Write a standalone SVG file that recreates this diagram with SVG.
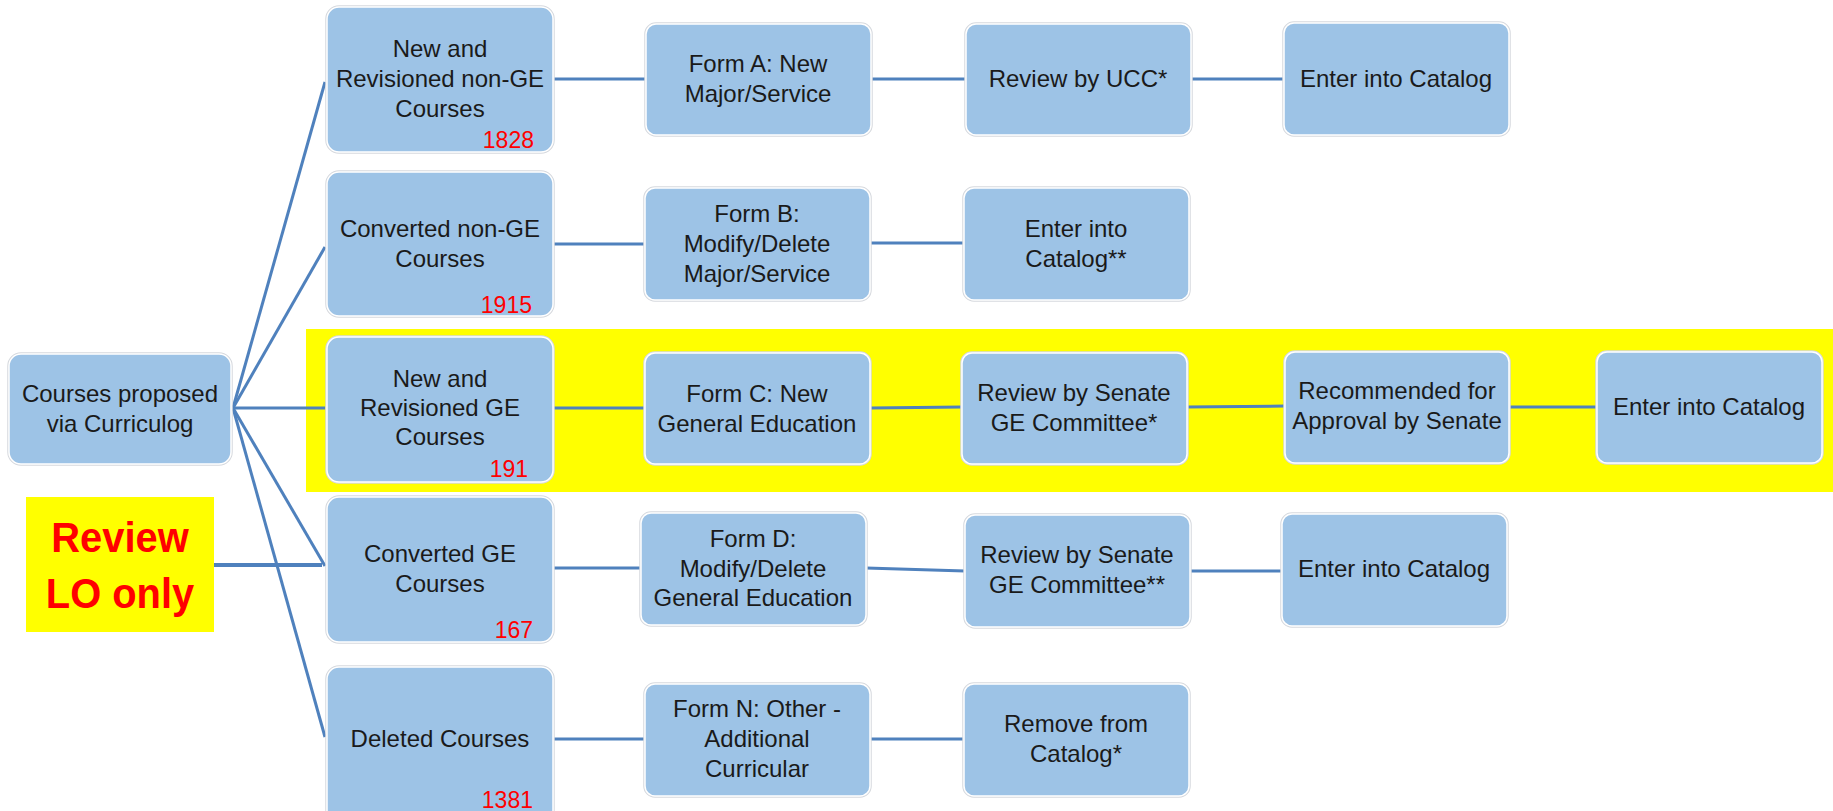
<svg xmlns="http://www.w3.org/2000/svg" width="1833" height="811" viewBox="0 0 1833 811">
  <style>
    .box { fill: #9dc3e6; stroke: #ffffff; stroke-width: 1.5; }
    .halo { fill: none; stroke: #d6d9de; stroke-width: 3.5; }
    .lbl { font-family: "Liberation Sans", Arial, sans-serif; font-size: 24px; fill: #1a1a1a; text-anchor: middle; }
    .num { font-family: "Liberation Sans", Arial, sans-serif; font-size: 23px; fill: #ff0000; text-anchor: end; }
    .note { font-family: "Liberation Sans", Arial, sans-serif; font-size: 42px; font-weight: bold; fill: #ff0000; text-anchor: middle; }
    .link { fill: none; stroke: #4f81bd; stroke-width: 3; }
  </style>
  <rect width="1833" height="811" fill="#ffffff"/>

  <!-- highlighted GE row -->
  <rect id="ge-highlight" x="306" y="329" width="1527" height="163" fill="#ffff00"/>

  <!-- connectors -->
  <g id="connectors">
    <path class="link" d="M233,408 L325,82"/>
    <path class="link" d="M233,408 L325,247"/>
    <path class="link" d="M233,408 L325,408"/>
    <path class="link" d="M233,408 L325,566"/>
    <path class="link" d="M233,408 L325,737"/>
    <path class="link" style="stroke-width:4" d="M214,565 L322,565"/>
    <path class="link" d="M553,79 L646,79"/>
    <path class="link" d="M871,79 L966,79"/>
    <path class="link" d="M1191,79 L1284,79"/>
    <path class="link" d="M553,244 L646,244"/>
    <path class="link" d="M871,243 L964,243"/>
    <path class="link" d="M553,408 L646,408"/>
    <path class="link" d="M871,408 L962,407"/>
    <path class="link" d="M1187,407 L1285,406"/>
    <path class="link" d="M1509,407 L1597,407"/>
    <path class="link" d="M553,568 L641,568"/>
    <path class="link" d="M866,568 L965,571"/>
    <path class="link" d="M1190,571 L1282,571"/>
    <path class="link" d="M553,739 L646,739"/>
    <path class="link" d="M871,739 L964,739"/>
  </g>

  <!-- note box -->
  <g id="review-lo-only">
    <rect x="26" y="497" width="188" height="135" fill="#ffff00"/>
    <text class="note" transform="translate(120,552) scale(0.95,1)">Review</text>
    <text class="note" transform="translate(120,608) scale(0.95,1)">LO only</text>
  </g>

  <!-- root -->
  <g id="courses-proposed">
    <rect class="halo" x="9" y="354" width="222" height="110" rx="12"/>
    <rect class="box" x="9" y="354" width="222" height="110" rx="12"/>
    <text class="lbl" x="120" y="402">Courses proposed</text>
    <text class="lbl" x="120" y="432">via Curriculog</text>
  </g>

  <!-- course categories -->
  <g id="new-nonge">
    <rect class="halo" x="327" y="7" width="226" height="145" rx="12"/>
    <rect class="box" x="327" y="7" width="226" height="145" rx="12"/>
    <text class="lbl" x="440" y="57">New and</text>
    <text class="lbl" x="440" y="87">Revisioned non-GE</text>
    <text class="lbl" x="440" y="117">Courses</text>
    <text class="num" x="534" y="148">1828</text>
  </g>
  <g id="converted-nonge">
    <rect class="halo" x="327" y="172" width="226" height="144" rx="12"/>
    <rect class="box" x="327" y="172" width="226" height="144" rx="12"/>
    <text class="lbl" x="440" y="237">Converted non-GE</text>
    <text class="lbl" x="440" y="267">Courses</text>
    <text class="num" x="532" y="313">1915</text>
  </g>
  <g id="new-ge">
    <rect class="halo" x="327" y="337" width="226" height="145" rx="12"/>
    <rect class="box" x="327" y="337" width="226" height="145" rx="12"/>
    <text class="lbl" x="440" y="387">New and</text>
    <text class="lbl" x="440" y="416">Revisioned GE</text>
    <text class="lbl" x="440" y="445">Courses</text>
    <text class="num" x="528" y="477">191</text>
  </g>
  <g id="converted-ge">
    <rect class="halo" x="327" y="497" width="226" height="145" rx="12"/>
    <rect class="box" x="327" y="497" width="226" height="145" rx="12"/>
    <text class="lbl" x="440" y="562">Converted GE</text>
    <text class="lbl" x="440" y="592">Courses</text>
    <text class="num" x="533" y="638">167</text>
  </g>
  <g id="deleted">
    <rect class="halo" x="327" y="667" width="226" height="155" rx="12"/>
    <rect class="box" x="327" y="667" width="226" height="155" rx="12"/>
    <text class="lbl" x="440" y="747">Deleted Courses</text>
    <text class="num" x="533" y="808">1381</text>
  </g>

  <!-- forms -->
  <g id="form-a">
    <rect class="halo" x="646" y="24" width="225" height="111" rx="10"/>
    <rect class="box" x="646" y="24" width="225" height="111" rx="10"/>
    <text class="lbl" x="758" y="72">Form A: New</text>
    <text class="lbl" x="758" y="102">Major/Service</text>
  </g>
  <g id="form-b">
    <rect class="halo" x="645" y="188" width="225" height="112" rx="10"/>
    <rect class="box" x="645" y="188" width="225" height="112" rx="10"/>
    <text class="lbl" x="757" y="222">Form B:</text>
    <text class="lbl" x="757" y="252">Modify/Delete</text>
    <text class="lbl" x="757" y="282">Major/Service</text>
  </g>
  <g id="form-c">
    <rect class="halo" x="645" y="353" width="225" height="111" rx="10"/>
    <rect class="box" x="645" y="353" width="225" height="111" rx="10"/>
    <text class="lbl" x="757" y="402">Form C: New</text>
    <text class="lbl" x="757" y="432">General Education</text>
  </g>
  <g id="form-d">
    <rect class="halo" x="641" y="513" width="225" height="112" rx="10"/>
    <rect class="box" x="641" y="513" width="225" height="112" rx="10"/>
    <text class="lbl" x="753" y="547">Form D:</text>
    <text class="lbl" x="753" y="577">Modify/Delete</text>
    <text class="lbl" x="753" y="606">General Education</text>
  </g>
  <g id="form-n">
    <rect class="halo" x="645" y="684" width="225" height="112" rx="10"/>
    <rect class="box" x="645" y="684" width="225" height="112" rx="10"/>
    <text class="lbl" x="757" y="717">Form N: Other -</text>
    <text class="lbl" x="757" y="747">Additional</text>
    <text class="lbl" x="757" y="777">Curricular</text>
  </g>

  <!-- review steps -->
  <g id="review-ucc">
    <rect class="halo" x="966" y="24" width="225" height="111" rx="10"/>
    <rect class="box" x="966" y="24" width="225" height="111" rx="10"/>
    <text class="lbl" x="1078" y="87">Review by UCC*</text>
  </g>
  <g id="enter-catalog-b">
    <rect class="halo" x="964" y="188" width="225" height="112" rx="10"/>
    <rect class="box" x="964" y="188" width="225" height="112" rx="10"/>
    <text class="lbl" x="1076" y="237">Enter into</text>
    <text class="lbl" x="1076" y="267">Catalog**</text>
  </g>
  <g id="review-senate-c">
    <rect class="halo" x="962" y="353" width="225" height="111" rx="10"/>
    <rect class="box" x="962" y="353" width="225" height="111" rx="10"/>
    <text class="lbl" x="1074" y="401">Review by Senate</text>
    <text class="lbl" x="1074" y="431">GE Committee*</text>
  </g>
  <g id="review-senate-d">
    <rect class="halo" x="965" y="515" width="225" height="112" rx="10"/>
    <rect class="box" x="965" y="515" width="225" height="112" rx="10"/>
    <text class="lbl" x="1077" y="563">Review by Senate</text>
    <text class="lbl" x="1077" y="593">GE Committee**</text>
  </g>
  <g id="remove-catalog">
    <rect class="halo" x="964" y="684" width="225" height="112" rx="10"/>
    <rect class="box" x="964" y="684" width="225" height="112" rx="10"/>
    <text class="lbl" x="1076" y="732">Remove from</text>
    <text class="lbl" x="1076" y="762">Catalog*</text>
  </g>

  <!-- later steps -->
  <g id="enter-catalog-a">
    <rect class="halo" x="1284" y="23" width="225" height="112" rx="10"/>
    <rect class="box" x="1284" y="23" width="225" height="112" rx="10"/>
    <text class="lbl" x="1396" y="87">Enter into Catalog</text>
  </g>
  <g id="recommended-senate">
    <rect class="halo" x="1285" y="352" width="224" height="111" rx="10"/>
    <rect class="box" x="1285" y="352" width="224" height="111" rx="10"/>
    <text class="lbl" x="1397" y="399">Recommended for</text>
    <text class="lbl" x="1397" y="429">Approval by Senate</text>
  </g>
  <g id="enter-catalog-d">
    <rect class="halo" x="1282" y="514" width="225" height="112" rx="10"/>
    <rect class="box" x="1282" y="514" width="225" height="112" rx="10"/>
    <text class="lbl" x="1394" y="577">Enter into Catalog</text>
  </g>
  <g id="enter-catalog-c">
    <rect class="halo" x="1597" y="352" width="225" height="111" rx="10"/>
    <rect class="box" x="1597" y="352" width="225" height="111" rx="10"/>
    <text class="lbl" x="1709" y="415">Enter into Catalog</text>
  </g>
</svg>
